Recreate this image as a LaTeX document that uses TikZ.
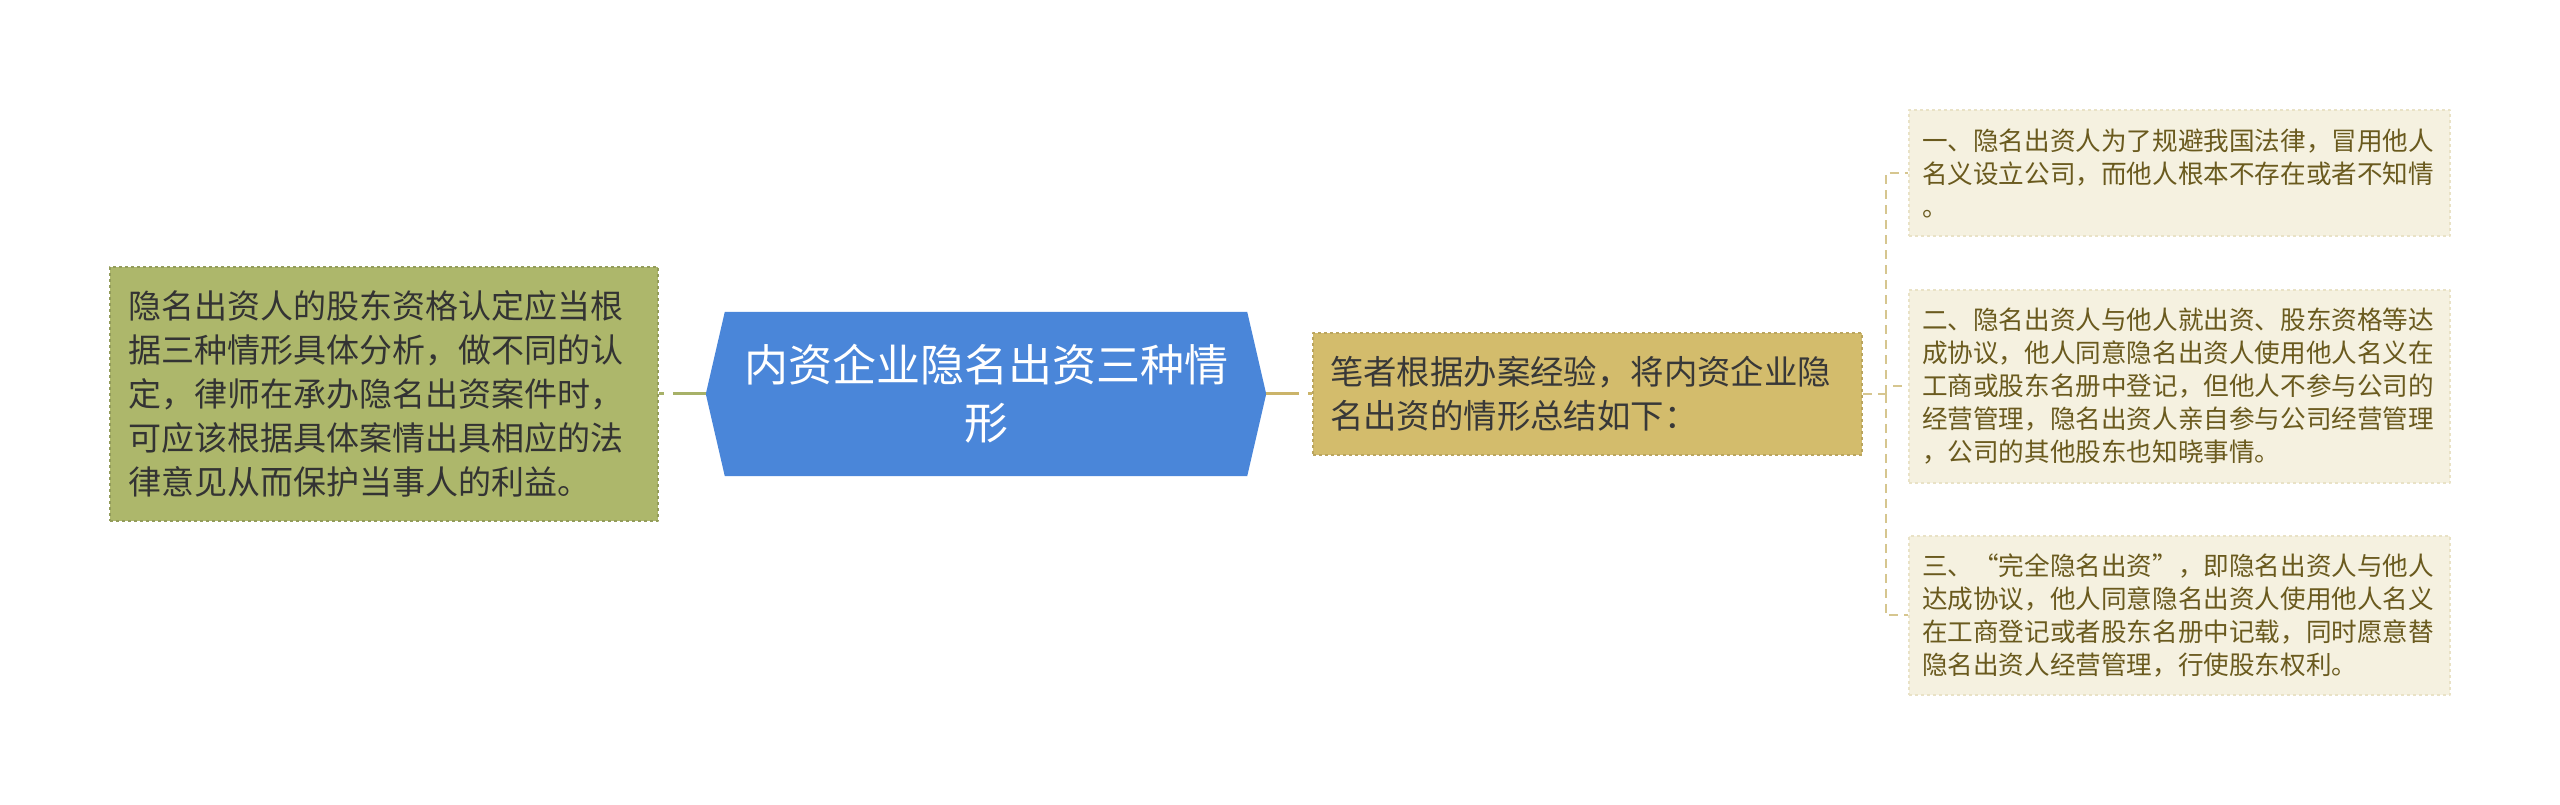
\documentclass[tikz,border=0pt]{standalone}
\usepackage{fontspec}
\newfontfamily\cjk{Noto Sans CJK SC}
\usetikzlibrary{backgrounds}

\definecolor{olivefill}{HTML}{ADB76B}
\definecolor{oliveline}{HTML}{A7B168}
\definecolor{topicblue}{HTML}{4A86D9}
\definecolor{tanfill}{HTML}{D3BC6C}
\definecolor{tanline}{HTML}{CBB46A}
\definecolor{creamfill}{HTML}{F5F1E0}
\definecolor{creamline}{HTML}{E9E2C6}
\definecolor{branchline}{HTML}{D6C68F}
\definecolor{itemtext}{HTML}{6A5A1E}

\tikzset{
  basisbox/.style={rectangle, fill=olivefill, draw=olivefill!85!black, dashed, line width=1.5pt,
    minimum width=548pt, minimum height=254pt, inner xsep=18pt, inner ysep=0pt,
    text width=512pt, align=left, text=black!80,
    font=\cjk\fontsize{33}{44}\selectfont},
  topicbox/.style={rectangle, minimum width=560pt, minimum height=164pt, inner sep=0pt,
    text width=500pt, align=center, text=white,
    font=\cjk\fontsize{44}{58}\selectfont},
  summarybox/.style={rectangle, fill=tanfill, draw=tanfill!88!black, dashed, line width=1.5pt,
    minimum width=549pt, minimum height=122pt, inner xsep=17pt, inner ysep=0pt,
    text width=515pt, align=left, text=black!78,
    font=\cjk\fontsize{33.4}{44}\selectfont},
  itembox/.style={rectangle, fill=creamfill, draw=creamline, dashed, line width=1.5pt,
    minimum width=541pt, inner xsep=13pt, inner ysep=0pt,
    text width=515pt, align=left, text=itemtext,
    font=\cjk\fontsize{25.6}{33}\selectfont},
  trunk/.style={line width=3pt, dash pattern=on 33pt off 9pt},
  branch/.style={line width=2pt, draw=branchline, dash pattern=on 9pt off 6pt}
}

\begin{document}
\begin{tikzpicture}[x=1pt, y=1pt, line join=round]

  \begin{scope}[on background layer]
    \fill[white] (0,0) rectangle (2560,805);
  \end{scope}
  \useasboundingbox (0,0) rectangle (2560,805);

  \node[basisbox] (basis) at (384,411) {隐名出资人的股东资格认定应当根\\据三种情形具体分析，做不同的认\\定，律师在承办隐名出资案件时，\\可应该根据具体案情出具相应的法\\律意见从而保护当事人的利益。};

  \node[topicbox] (topic) at (986,411) {内资企业隐名出资三种情\\形};
  \begin{scope}[on background layer]
    \fill[topicblue] (topic.west) -- ([xshift=19pt]topic.north west) -- ([xshift=-19pt]topic.north east)
      -- (topic.east) -- ([xshift=-19pt]topic.south east) -- ([xshift=19pt]topic.south west) -- cycle;
  \end{scope}

  \node[summarybox] (summary) at (1587.5,411) {笔者根据办案经验，将内资企业隐\\名出资的情形总结如下：};

  \node[itembox, minimum height=126pt] (item1) at (2179.5,632) {一、隐名出资人为了规避我国法律，冒用他人\\名义设立公司，而他人根本不存在或者不知情\\。};
  \node[itembox, minimum height=193pt] (item2) at (2179.5,418.5) {二、隐名出资人与他人就出资、股东资格等达\\成协议，他人同意隐名出资人使用他人名义在\\工商或股东名册中登记，但他人不参与公司的\\经营管理，隐名出资人亲自参与公司经营管理\\，公司的其他股东也知晓事情。};
  \node[itembox, minimum height=159pt] (item3) at (2179.5,189.5) {三、“完全隐名出资”，即隐名出资人与他人\\达成协议，他人同意隐名出资人使用他人名义\\在工商登记或者股东名册中记载，同时愿意替\\隐名出资人经营管理，行使股东权利。};

  % connectors
  \draw[trunk, draw=oliveline] (topic.west) -- (basis.east);
  \draw[trunk, draw=tanline] (topic.east) -- (summary.west);

  \coordinate (fork) at ([xshift=23pt]summary.east);
  \draw[branch] (summary.east) -- (fork);
  \foreach \i in {1,2,3}
    \draw[branch] (fork) |- (item\i.west);

\end{tikzpicture}
\end{document}
